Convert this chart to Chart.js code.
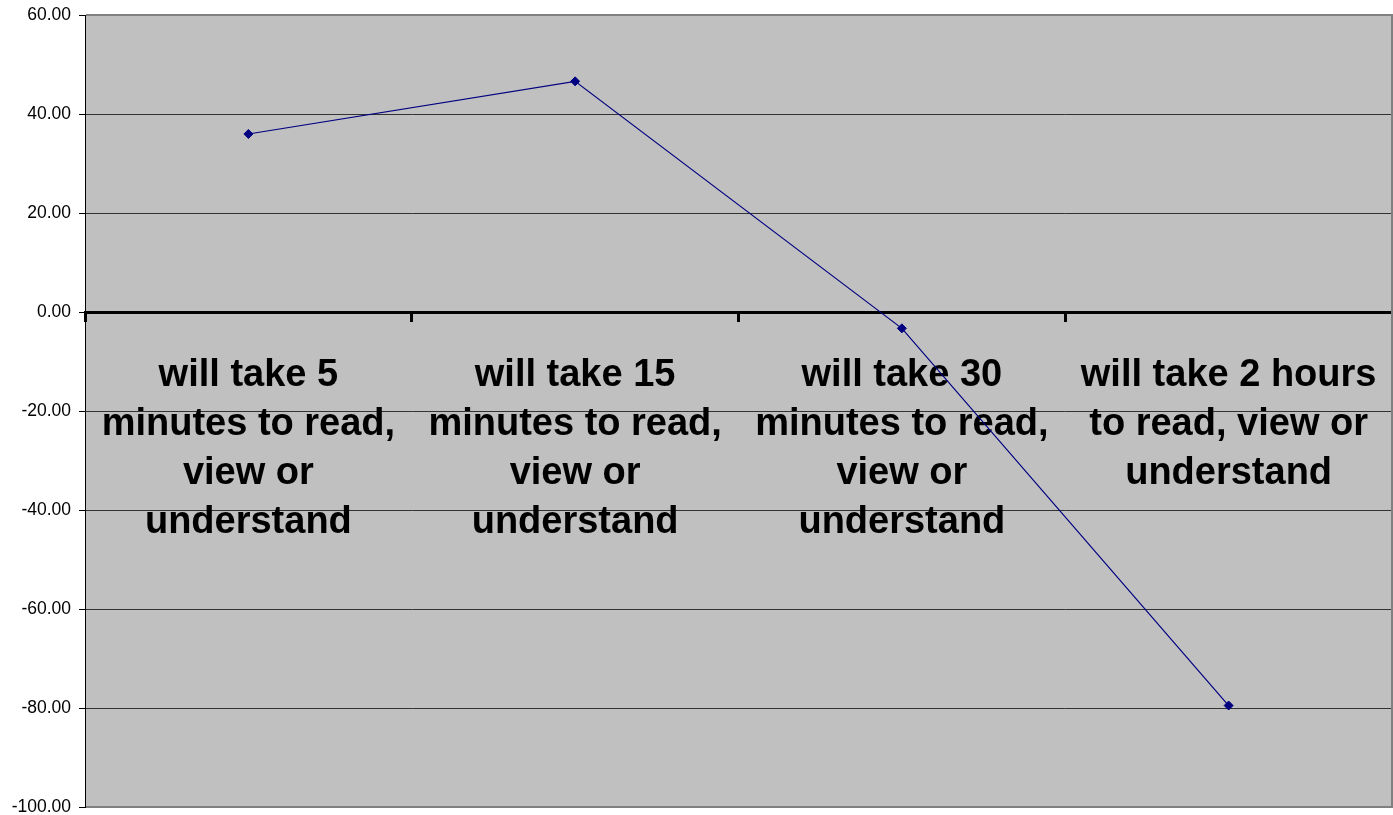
<!DOCTYPE html>
<html>
<head>
<meta charset="utf-8">
<script src="https://cdn.jsdelivr.net/npm/chart.js@4.4.0/dist/chart.umd.min.js"></script>
<style>
    html, body { margin: 0; padding: 0; background: #fff; overflow: hidden; }
    canvas { display: block; }
</style>
</head>
<body>
<canvas id="timeChart" width="1393" height="815"></canvas>
<script>
// 차트 데이터
const categories = [
    ['will take 5', 'minutes to read,', 'view or', 'understand'],
    ['will take 15', 'minutes to read,', 'view or', 'understand'],
    ['will take 30', 'minutes to read,', 'view or', 'understand'],
    ['will take 2 hours', 'to read, view or', 'understand']
];
const values = [35.96, 46.6, -3.3, -79.5];
const yTicks = [60, 40, 20, 0, -20, -40, -60, -80, -100];

const FONT = 'Arial, "Liberation Sans", sans-serif';

// 축 라벨이 차트 영역을 줄이지 않도록
function noPadding(scale) {
    scale.paddingLeft = 0;
    scale.paddingRight = 0;
    scale.paddingTop = 0;
    scale.paddingBottom = 0;
}

document.addEventListener('DOMContentLoaded', function() {
    // 플롯 영역 배경과 테두리
    const plotFrame = {
        id: 'plotFrame',
        beforeDraw(chart) {
            const { ctx, chartArea: a } = chart;
            ctx.save();
            ctx.fillStyle = '#c0c0c0';
            ctx.fillRect(a.left, a.top, a.right - a.left, a.bottom - a.top);
            ctx.restore();
        },
        beforeDatasetsDraw(chart) {
            const { ctx, chartArea: a } = chart;
            ctx.save();
            ctx.strokeStyle = '#808080';
            ctx.lineWidth = 2;
            ctx.beginPath();
            ctx.moveTo(a.left + 1, a.top);
            ctx.lineTo(a.right, a.top);
            ctx.lineTo(a.right, a.bottom);
            ctx.lineTo(a.left + 1, a.bottom);
            ctx.stroke();
            ctx.restore();
        }
    };

    const ctx = document.getElementById('timeChart').getContext('2d');

    new Chart(ctx, {
        type: 'line',
        data: {
            labels: categories,
            datasets: [{
                data: values,
                borderColor: '#000080',
                backgroundColor: '#000080',
                borderWidth: 1.2,
                pointStyle: 'rectRot',
                pointRadius: 4.5,
                pointBorderWidth: 1,
                tension: 0,
                fill: false
            }]
        },
        options: {
            responsive: false,
            animation: false,
            layout: {
                autoPadding: false,
                padding: { top: 15, right: 1, bottom: 8, left: 0 }
            },
            plugins: {
                legend: { display: false },
                tooltip: { enabled: false }
            },
            scales: {
                x: {
                    position: { y: 0 },
                    offset: true,
                    afterFit: noPadding,
                    border: { color: '#000', width: 3 },
                    grid: {
                        offset: true,
                        drawOnChartArea: false,
                        drawTicks: true,
                        tickLength: 8,
                        tickWidth: 3,
                        tickColor: '#000'
                    },
                    ticks: {
                        padding: 31,
                        maxRotation: 0,
                        autoSkip: false,
                        color: '#000',
                        font: { family: FONT, size: 38, weight: 'bold', lineHeight: 1.29 }
                    }
                },
                y: {
                    min: -100,
                    max: 60,
                    afterBuildTicks: function(scale) {
                        scale.ticks = yTicks.map(v => ({ value: v }));
                    },
                    afterFit: function(scale) {
                        scale.width = 85;
                        noPadding(scale);
                    },
                    border: { color: '#000', width: 1 },
                    grid: {
                        color: '#333',
                        lineWidth: 1,
                        tickLength: 6,
                        tickColor: '#000'
                    },
                    ticks: {
                        padding: 8,
                        color: '#000',
                        font: { family: FONT, size: 17.5 },
                        callback: function(value) {
                            return Number(value).toFixed(2);
                        }
                    }
                }
            }
        },
        plugins: [plotFrame]
    });
});
</script>
</body>
</html>
